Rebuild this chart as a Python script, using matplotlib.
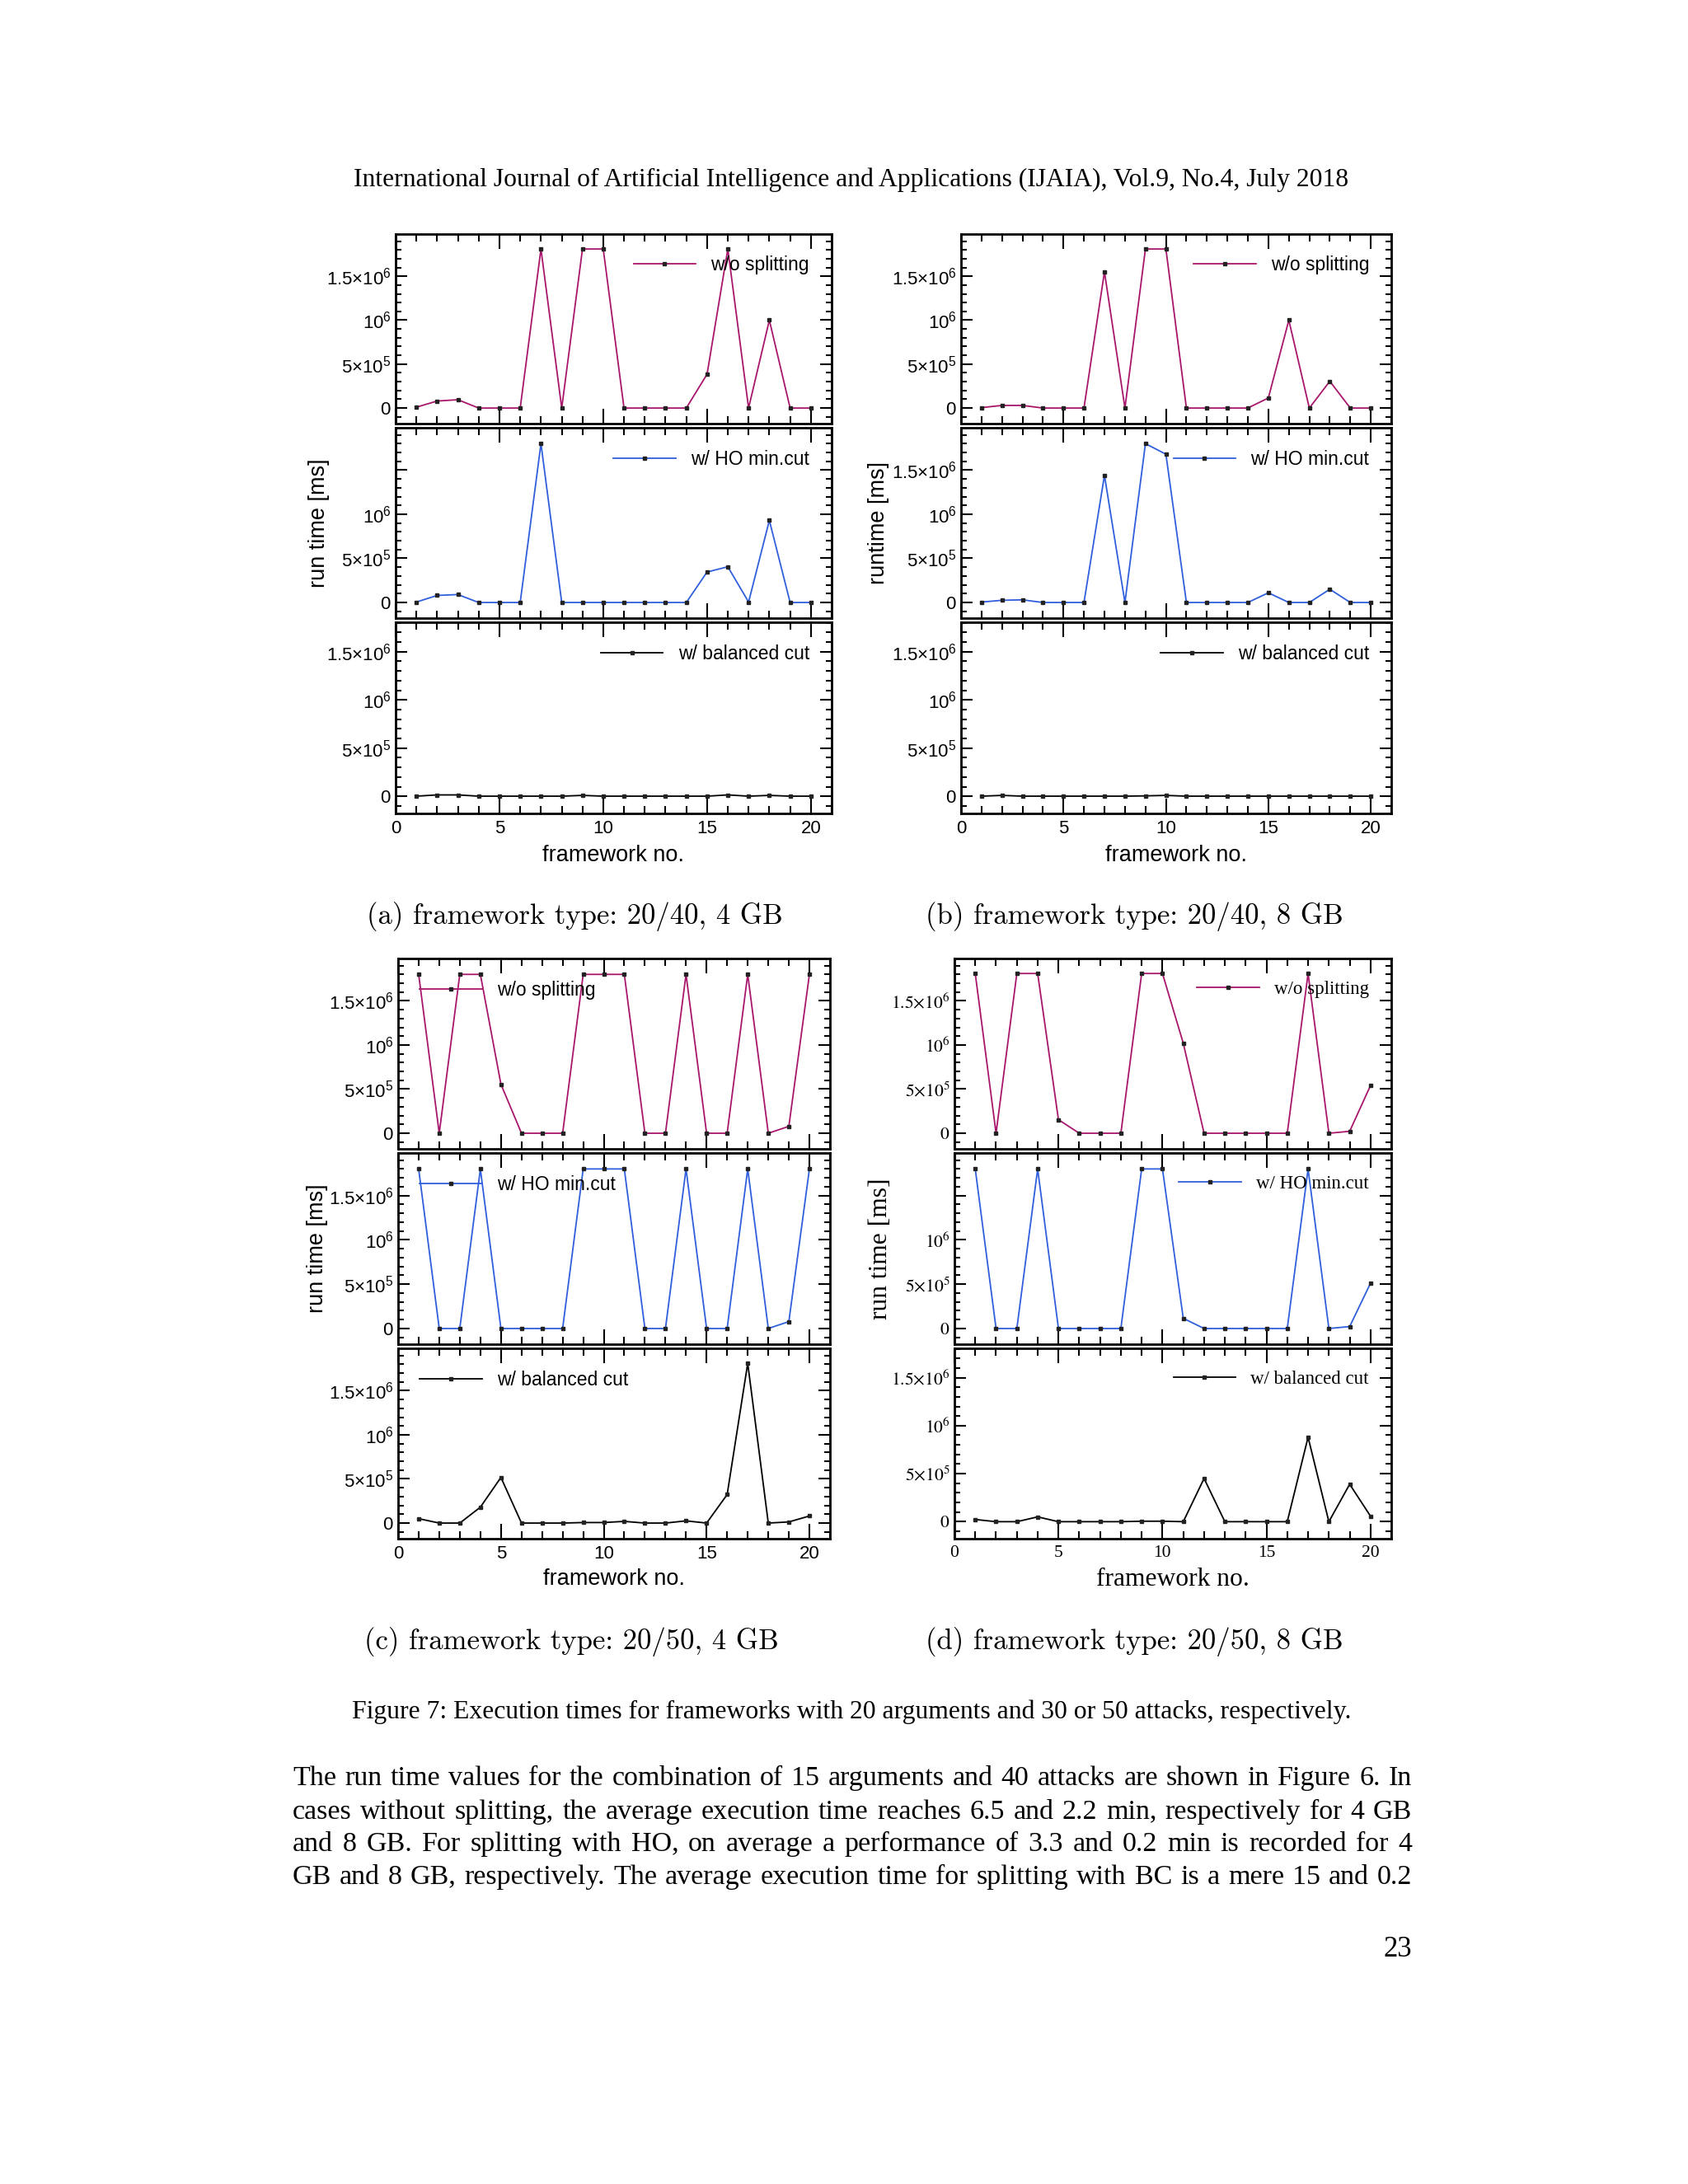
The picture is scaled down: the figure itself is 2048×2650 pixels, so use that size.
import numpy as np
import matplotlib.pyplot as plt
from matplotlib.ticker import MultipleLocator, FixedLocator
from matplotlib.font_manager import FontProperties

plt.rcParams['mathtext.fontset'] = 'custom'
plt.rcParams['mathtext.rm'] = 'Liberation Sans'
plt.rcParams['mathtext.it'] = 'Liberation Sans:italic'
plt.rcParams['mathtext.bf'] = 'Liberation Sans:bold'

# framework no. 1..20, run time in ms
frameworks = np.arange(1, 21)

a_wo = [1e4, 8e4, 9.5e4, 0, 0, 0, 1.81e6, 0, 1.81e6, 1.81e6, 0, 0, 0, 0, 3.85e5, 1.81e6, 0, 1.0e6, 0, 0]
a_ho = [5e3, 8e4, 9e4, 0, 0, 0, 1.8e6, 0, 0, 0, 0, 0, 0, 0, 3.45e5, 4.05e5, 5e3, 9.3e5, 0, 0]
a_bc = [2e3, 1.5e4, 1.5e4, 2e3, 2e3, 2e3, 2e3, 2e3, 1e4, 2e3, 2e3, 2e3, 2e3, 2e3, 2e3, 1.5e4, 2e3, 1e4, 2e3, 2e3]

b_wo = [5e3, 3e4, 3e4, 0, 0, 0, 1.55e6, 0, 1.81e6, 1.81e6, 0, 0, 0, 0, 1.15e5, 1.0e6, 0, 3.05e5, 0, 0]
b_ho = [5e3, 2.5e4, 3e4, 0, 0, 0, 1.44e6, 0, 1.8e6, 1.68e6, 0, 0, 0, 0, 1.1e5, 0, 0, 1.5e5, 0, 0]
b_bc = [2e3, 1e4, 2e3, 2e3, 2e3, 2e3, 2e3, 2e3, 5e3, 1e4, 2e3, 2e3, 2e3, 2e3, 2e3, 2e3, 2e3, 2e3, 2e3, 2e3]

c_wo = [1.8e6, 0, 1.8e6, 1.8e6, 5.55e5, 0, 0, 0, 1.8e6, 1.8e6, 1.8e6, 0, 0, 1.8e6, 0, 0, 1.8e6, 0, 7.8e4, 1.8e6]
c_ho = [1.8e6, 0, 0, 1.8e6, 0, 0, 0, 0, 1.8e6, 1.8e6, 1.8e6, 0, 0, 1.8e6, 0, 0, 1.8e6, 0, 7.8e4, 1.8e6]
c_bc = [5e4, 0, 0, 1.8e5, 5.17e5, 0, 0, 0, 6e3, 6e3, 1.9e4, 0, 0, 2.5e4, 0, 3.23e5, 1.81e6, 0, 1.3e4, 8e4]

d_wo = [1.81e6, 0, 1.81e6, 1.81e6, 1.54e5, 0, 0, 0, 1.81e6, 1.81e6, 1.02e6, 0, 0, 0, 0, 0, 1.81e6, 0, 2.2e4, 5.4e5]
d_ho = [1.8e6, 0, 0, 1.8e6, 0, 0, 0, 0, 1.8e6, 1.8e6, 1.15e5, 0, 0, 0, 0, 0, 1.8e6, 0, 2.2e4, 5.1e5]
d_bc = [2.3e4, 0, 0, 5e4, 0, 0, 0, 0, 5e3, 5e3, 0, 4.5e5, 0, 0, 0, 0, 8.8e5, 0, 3.9e5, 5.8e4]

series_labels = ["w/o splitting", "w/ HO min.cut", "w/ balanced cut"]
series_colors = ["#a8166c", "#2f5fdc", "black"]

ytick_vals = [0, 5e5, 1e6, 1.5e6]
ytick_text = [r"$0$", r"$5{\times}10^{5}$", r"$10^{6}$", r"$1.5{\times}10^{6}$"]
xtick_vals = [0, 5, 10, 15, 20]
xtick_text = ["0", "5", "10", "15", "20"]

captions = ["(a) framework type: 20/40, 4 GB", "(b) framework type: 20/40, 8 GB",
            "(c) framework type: 20/50, 4 GB", "(d) framework type: 20/50, 8 GB"]
ylabels = ["run time [ms]", "runtime [ms]", "run time [ms]", "run time [ms]"]

header = "International Journal of Artificial Intelligence and Applications (IJAIA), Vol.9, No.4, July 2018"
fig_caption = "Figure 7: Execution times for frameworks with 20 arguments and 30 or 50 attacks, respectively."
body_lines = [
    "The run time values for the combination of 15 arguments and 40 attacks are shown in Figure 6. In",
    "cases without splitting, the average execution time reaches 6.5 and 2.2 min, respectively for 4 GB",
    "and 8 GB. For splitting with HO, on average a performance of 3.3 and 0.2 min is recorded for 4",
    "GB and 8 GB, respectively. The average execution time for splitting with BC is a mere 15 and 0.2",
]
page_no = "23"

data = [[a_wo, a_ho, a_bc], [b_wo, b_ho, b_bc], [c_wo, c_ho, c_bc], [d_wo, d_ho, d_bc]]

# ---- page layout (pixels) ----
W, H = 2048, 2650
fig = plt.figure(figsize=(W / 100, H / 100), dpi=100)
fig.patch.set_facecolor("white")


def fx(px):
    return px / W


def fy(px):
    return 1 - px / H


col_x = [(480, 1009), (1166, 1688), (483, 1007), (1158, 1688)]
rows_top = [(284, 514), (519, 750), (755, 987)]
rows_bot = [(1163, 1394), (1399, 1631), (1636, 1867)]
panel_rows = [rows_top, rows_top, rows_bot, rows_bot]
legend_loc = ["upper right", "upper right", "upper left", "upper right"]
hide_15 = {(0, 1), (3, 1)}  # panels where the 1.5x10^6 label is not printed
caption_y = [1112, 1112, 1992, 1992]
xlabel_y = [1038, 1038, 1916, 1916]
ylabel_x = [387, 1066, 385, 1068]

sans = "Liberation Sans"
serif = "Liberation Serif"

for k in range(4):
    is_serif = (k == 3)
    fam = serif if is_serif else sans
    mfam = "stix" if is_serif else "custom"
    tick_fp = FontProperties(family=fam, size=15.5 if is_serif else 16, math_fontfamily=mfam)
    leg_fp = FontProperties(family=fam, size=16.5)
    lab_size = 22.7 if is_serif else 19.5
    x0, x1 = col_x[k]
    for r in range(3):
        t, b = panel_rows[k][r]
        ax = fig.add_axes([fx(x0), fy(b), (x1 - x0) / W, (b - t) / H])
        vals = np.array(data[k][r])
        ax.plot(frameworks, vals, color=series_colors[r], lw=1.3,
                marker="s", ms=2.8, mfc="#222222", mec="#222222",
                label=series_labels[r])
        ax.set_xlim(0, 21)
        top = 1.98e6 if vals.max() > 1.7e6 else 1.805e6
        ax.set_ylim(-1.77e5, top)

        ax.xaxis.set_major_locator(FixedLocator(xtick_vals))
        ax.xaxis.set_minor_locator(MultipleLocator(1))
        ax.yaxis.set_major_locator(FixedLocator(ytick_vals))
        ax.yaxis.set_minor_locator(MultipleLocator(1e5))
        labels = list(ytick_text)
        if (k, r) in hide_15:
            labels[3] = ""
        ax.set_yticklabels(labels, fontproperties=tick_fp)
        if r == 2:
            ax.set_xticklabels(xtick_text, fontproperties=tick_fp)
        else:
            ax.set_xticklabels([])
        ax.tick_params(which="both", direction="in", top=True, right=True, width=1.5)
        ax.tick_params(axis="x", which="major", length=13, pad=6)
        ax.tick_params(axis="x", which="minor", length=6.5)
        ax.tick_params(axis="y", which="major", length=10, pad=4)
        ax.tick_params(axis="y", which="minor", length=5)
        for s in ax.spines.values():
            s.set_linewidth(2.0)

        if legend_loc[k] == "upper right":
            anchor = (0.949, 0.885)
        else:
            anchor = (0.05, 0.885)
        ax.legend(loc=legend_loc[k], bbox_to_anchor=anchor, frameon=False,
                  prop=leg_fp, handlelength=3.3, handletextpad=0.8,
                  borderpad=0, borderaxespad=0, numpoints=1)

    fig.text(fx((x0 + x1) / 2), fy(xlabel_y[k]), "framework no.", family=fam,
             size=lab_size, ha="center", va="center")
    mid_t, mid_b = panel_rows[k][1]
    fig.text(fx(ylabel_x[k]), fy((mid_t + mid_b) / 2), ylabels[k], family=fam,
             size=lab_size, rotation=90, ha="center", va="center")
    fig.text(fx([697, 1376, 693, 1376][k]), fy(caption_y[k]), captions[k],
             family="cmr10", size=25, ha="center", va="center")

# ---- page text ----
fig.text(fx(1033), fy(218), header, family=serif, size=22.8, ha="center", va="center")
fig.text(fx(1033), fy(2077), fig_caption, family=serif, size=22.8, ha="center", va="center")
fig.text(fx(1713), fy(2366), page_no, family=serif, size=25, ha="right", va="center")

renderer = fig.canvas.get_renderer()
body_left, body_right = 355, 1713
body_y = [2154, 2195, 2234, 2274]
for line, yy in zip(body_lines, body_y):
    words = line.split()
    texts = [fig.text(0, fy(yy), w, family=serif, size=24.5, ha="left", va="center_baseline")
             for w in words]
    widths = [tx.get_window_extent(renderer).width for tx in texts]
    gap = (body_right - body_left - sum(widths)) / (len(words) - 1)
    xpos = body_left
    for tx, w in zip(texts, widths):
        tx.set_x(fx(xpos))
        xpos += w + gap

fig.savefig("out.png", dpi=100, facecolor="white")
